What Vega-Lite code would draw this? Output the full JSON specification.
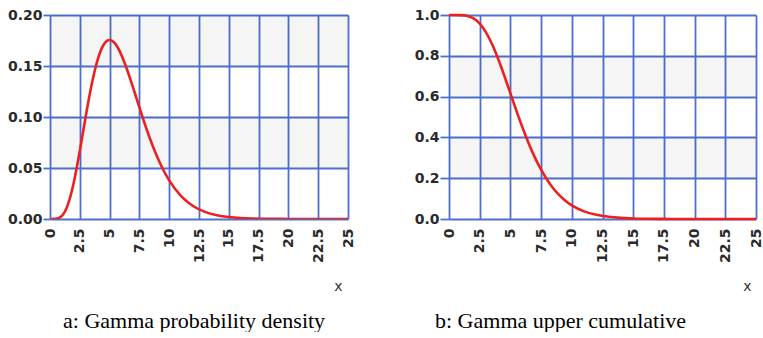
{
  "$schema": "https://vega.github.io/schema/vega-lite/v6.json",
  "background": "white",
  "padding": {"left": 7, "top": 8, "right": 0, "bottom": 0},
  "spacing": 101,
  "bounds": "flush",
  "datasets": {
    "pdf": [
      {"x": 0, "y": 0}, {"x": 0.5, "y": 0.000158}, {"x": 1, "y": 0.003066}, {"x": 1.5, "y": 0.01412},
      {"x": 2, "y": 0.036089}, {"x": 2.5, "y": 0.066801}, {"x": 3, "y": 0.100819}, {"x": 3.5, "y": 0.132168},
      {"x": 4, "y": 0.156293}, {"x": 4.5, "y": 0.170827}, {"x": 5, "y": 0.175467}, {"x": 5.5, "y": 0.171401},
      {"x": 6, "y": 0.160623}, {"x": 6.5, "y": 0.145365}, {"x": 7, "y": 0.127717}, {"x": 7.5, "y": 0.109374},
      {"x": 8, "y": 0.091604}, {"x": 8.5, "y": 0.075233}, {"x": 9, "y": 0.060727}, {"x": 9.5, "y": 0.048266},
      {"x": 10, "y": 0.037833}, {"x": 11, "y": 0.022415}, {"x": 12, "y": 0.012741}, {"x": 13, "y": 0.006994},
      {"x": 14, "y": 0.003727}, {"x": 15, "y": 0.001936}, {"x": 16, "y": 0.000983}, {"x": 17, "y": 0.00049},
      {"x": 18, "y": 0.00024}, {"x": 19, "y": 0.000116}, {"x": 20, "y": 0.000055}, {"x": 22, "y": 0.000011},
      {"x": 25, "y": 0.000001}
    ],
    "cdf": [
      {"x": 0, "y": 1}, {"x": 0.5, "y": 0.999986}, {"x": 1, "y": 0.999406}, {"x": 1.5, "y": 0.995549},
      {"x": 2, "y": 0.983436}, {"x": 2.5, "y": 0.957979}, {"x": 3, "y": 0.916082}, {"x": 3.5, "y": 0.857614},
      {"x": 4, "y": 0.78513}, {"x": 4.5, "y": 0.70293}, {"x": 5, "y": 0.61596}, {"x": 5.5, "y": 0.528922},
      {"x": 6, "y": 0.44568}, {"x": 6.5, "y": 0.369031}, {"x": 7, "y": 0.300708}, {"x": 7.5, "y": 0.241436},
      {"x": 8, "y": 0.191236}, {"x": 8.5, "y": 0.149597}, {"x": 9, "y": 0.115691}, {"x": 9.5, "y": 0.088528},
      {"x": 10, "y": 0.067086}, {"x": 11, "y": 0.03752}, {"x": 12, "y": 0.020341}, {"x": 13, "y": 0.010734},
      {"x": 14, "y": 0.005532}, {"x": 15, "y": 0.002792}, {"x": 16, "y": 0.001384}, {"x": 17, "y": 0.000674},
      {"x": 18, "y": 0.000324}, {"x": 19, "y": 0.000154}, {"x": 20, "y": 0.000072}, {"x": 22, "y": 0.000015},
      {"x": 25, "y": 0.000001}
    ],
    "bandsA": [{"lo": 0.05, "hi": 0.1}, {"lo": 0.15, "hi": 0.2}],
    "bandsB": [{"lo": 0.2, "hi": 0.4}, {"lo": 0.6, "hi": 0.8}]
  },
  "config": {
    "view": {"stroke": null},
    "axis": {
      "domain": false,
      "grid": true,
      "gridColor": "#4f6fcf",
      "gridWidth": 1.8,
      "gridOpacity": 1,
      "labelFont": "DejaVu Sans",
      "labelFontWeight": "bold",
      "labelFontSize": 14,
      "labelColor": "#2a2a2a",
      "tickColor": "#4f6fcf",
      "tickWidth": 1.8
    }
  },
  "hconcat": [
    {
      "width": 298,
      "height": 204,
      "title": {"text": "a: Gamma probability density", "orient": "bottom", "anchor": "start", "frame": "group", "dx": 13, "offset": 18, "font": "Liberation Serif", "fontSize": 22, "fontWeight": "normal", "color": "#000000"},
      "layer": [
        {
          "data": {"name": "bandsA"},
          "mark": {"type": "rect", "fill": "#000000", "fillOpacity": 0.04},
          "encoding": {
            "y": {"field": "lo", "type": "quantitative", "scale": {"domain": [0, 0.2], "nice": false},
                  "axis": {"values": [0, 0.05, 0.1, 0.15, 0.2], "format": ".2f", "title": null, "tickSize": 7, "labelPadding": 1}},
            "y2": {"field": "hi"}
          }
        },
        {
          "data": {"name": "pdf"},
          "mark": {"type": "line", "color": "#ee1f1f", "strokeWidth": 2.6, "interpolate": "monotone", "clip": true},
          "encoding": {
            "x": {"field": "x", "type": "quantitative", "scale": {"domain": [0, 25], "nice": false},
                  "axis": {"values": [0, 2.5, 5, 7.5, 10, 12.5, 15, 17.5, 20, 22.5, 25], "format": ".1~f", "labelAngle": -90, "ticks": false, "labelPadding": 9,
                           "title": "x", "titleX": 288, "titleY": 67, "titleAlign": "center", "titleBaseline": "middle", "titleFont": "DejaVu Sans", "titleFontSize": 14, "titleFontWeight": "normal", "titleColor": "#333333"}},
            "y": {"field": "y", "type": "quantitative"}
          }
        }
      ]
    },
    {
      "width": 307,
      "height": 204,
      "title": {"text": "b: Gamma upper cumulative", "orient": "bottom", "anchor": "start", "frame": "group", "dx": -14, "offset": 18, "font": "Liberation Serif", "fontSize": 22, "fontWeight": "normal", "color": "#000000"},
      "layer": [
        {
          "data": {"name": "bandsB"},
          "mark": {"type": "rect", "fill": "#000000", "fillOpacity": 0.04},
          "encoding": {
            "y": {"field": "lo", "type": "quantitative", "scale": {"domain": [0, 1], "nice": false},
                  "axis": {"values": [0, 0.2, 0.4, 0.6, 0.8, 1], "format": ".1f", "title": null, "tickSize": 9, "labelPadding": 1}},
            "y2": {"field": "hi"}
          }
        },
        {
          "data": {"name": "cdf"},
          "mark": {"type": "line", "color": "#ee1f1f", "strokeWidth": 2.6, "interpolate": "monotone", "clip": false},
          "encoding": {
            "x": {"field": "x", "type": "quantitative", "scale": {"domain": [0, 25], "nice": false},
                  "axis": {"values": [0, 2.5, 5, 7.5, 10, 12.5, 15, 17.5, 20, 22.5, 25], "format": ".1~f", "labelAngle": -90, "ticks": false, "labelPadding": 9,
                           "title": "x", "titleX": 298, "titleY": 67, "titleAlign": "center", "titleBaseline": "middle", "titleFont": "DejaVu Sans", "titleFontSize": 14, "titleFontWeight": "normal", "titleColor": "#333333"}},
            "y": {"field": "y", "type": "quantitative"}
          }
        }
      ]
    }
  ]
}
